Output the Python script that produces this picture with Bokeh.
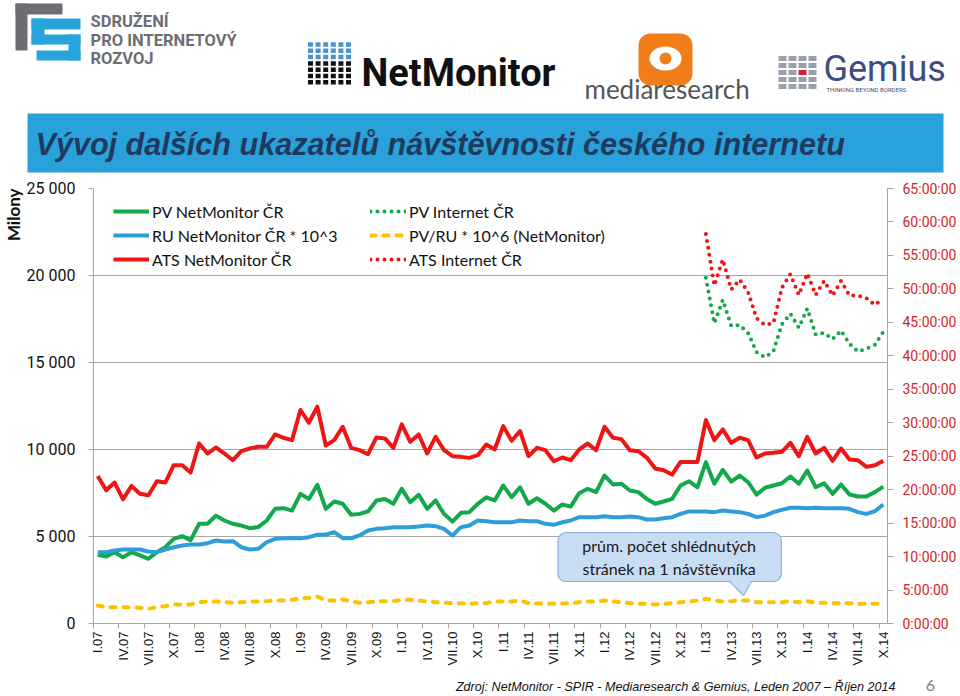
import math
from bokeh.plotting import figure
from bokeh.models import Range1d, LinearAxis, FixedTicker, Legend, LegendItem, Title
from bokeh.core.properties import value
from bokeh.embed import file_html
from bokeh.resources import INLINE

# ---------------- data ----------------
tick_labels = ["I.07", "IV.07", "VII.07", "X.07", "I.08", "IV.08", "VII.08", "X.08",
               "I.09", "IV.09", "VII.09", "X.09", "I.10", "IV.10", "VII.10", "X.10",
               "I.11", "IV.11", "VII.11", "X.11", "I.12", "IV.12", "VII.12", "X.12",
               "I.13", "IV.13", "VII.13", "X.13", "I.14", "IV.14", "VII.14", "X.14"]

# PV NetMonitor CR (millions)
pv_nm = [3950, 3850, 4100, 3810, 4100, 3910, 3720, 4100, 4385, 4865, 5020, 4790,
         5730, 5730, 6200, 5920, 5730, 5630, 5480, 5540, 5920, 6590, 6630, 6490,
         7450, 7160, 7970, 6590, 7010, 6880, 6245, 6300, 6440, 7070, 7160, 6880,
         7740, 6970, 7395, 6590, 7070, 6300, 5860, 6360, 6400, 6880, 7250, 7070,
         7930, 7260, 7830, 6880, 7200, 6880, 6490, 6840, 6720, 7490, 7740, 7550,
         8505, 7990, 8030, 7640, 7550, 7160, 6880, 7010, 7160, 7930, 8180, 7830,
         9270, 8030, 8830, 8160, 8505, 8120, 7410, 7800, 7930, 8060, 8450, 8030,
         8790, 7830, 8060, 7450, 7990, 7410, 7300, 7300, 7550, 7870]

# RU NetMonitor CR * 10^3
ru_nm = [4100, 4100, 4195, 4250, 4250, 4250, 4140, 4100, 4250, 4385, 4480, 4540,
         4540, 4615, 4770, 4710, 4730, 4385, 4250, 4290, 4670, 4865, 4900, 4900,
         4900, 4960, 5100, 5100, 5250, 4900, 4900, 5060, 5345, 5440, 5480, 5535,
         5535, 5535, 5575, 5630, 5595, 5440, 5060, 5535, 5630, 5920, 5870, 5820,
         5820, 5820, 5920, 5880, 5880, 5730, 5670, 5820, 5920, 6110, 6110, 6110,
         6170, 6110, 6110, 6150, 6110, 5980, 5980, 6050, 6110, 6300, 6440, 6440,
         6440, 6400, 6490, 6440, 6400, 6300, 6110, 6200, 6400, 6530, 6650, 6650,
         6630, 6650, 6630, 6630, 6630, 6590, 6400, 6300, 6450, 6840]

# ATS NetMonitor CR (hours)
ats_nm = [22.05, 19.9, 21.06, 18.56, 20.56, 19.4, 19.16, 21.26, 21.06, 23.65, 23.65, 22.56,
          26.9, 25.4, 26.3, 25.4, 24.4, 25.75, 26.15, 26.4, 26.4, 28.25, 27.75, 27.4,
          31.9, 30.0, 32.4, 26.6, 27.4, 29.4, 26.25, 25.9, 25.3, 27.8, 27.65, 26.25,
          29.75, 27.15, 28.25, 25.4, 27.9, 25.9, 25.0, 24.9, 24.75, 25.15, 26.75, 26.0,
          29.5, 27.3, 28.75, 25.0, 26.25, 25.9, 24.25, 24.8, 24.4, 26.0, 26.9, 25.9,
          29.4, 27.75, 27.55, 25.9, 25.75, 24.8, 23.15, 22.9, 22.25, 24.15, 24.15, 24.15,
          30.4, 27.4, 29.0, 27.0, 27.75, 27.4, 24.8, 25.4, 25.5, 25.65, 27.0, 25.0,
          27.9, 25.4, 26.25, 24.3, 26.15, 24.5, 24.4, 23.4, 23.65, 24.3]

# PV/RU * 10^6 (NetMonitor)
pv_ru = [1034, 940, 940, 940, 940, 900, 845, 940, 995, 1090, 1090, 1090,
         1225, 1265, 1265, 1225, 1190, 1225, 1265, 1265, 1285, 1320, 1320, 1360,
         1455, 1475, 1550, 1320, 1320, 1380, 1265, 1190, 1225, 1265, 1285, 1285,
         1360, 1360, 1320, 1265, 1225, 1190, 1170, 1170, 1130, 1170, 1170, 1265,
         1265, 1265, 1320, 1170, 1150, 1150, 1130, 1150, 1170, 1225, 1265, 1265,
         1320, 1265, 1225, 1170, 1130, 1130, 1090, 1130, 1170, 1225, 1265, 1320,
         1420, 1320, 1265, 1285, 1320, 1320, 1225, 1225, 1225, 1225, 1285, 1225,
         1285, 1190, 1190, 1170, 1170, 1170, 1130, 1130, 1130, 1130]

# Internet CR series start in I.13 (month index 72)
inet_start = 72
pv_inet = [19870, 17250, 18600, 17100, 17150, 16700, 15600, 15300, 15650, 17200, 17800, 17000,
           18100, 16600, 16700, 16340, 16830, 16070, 15620, 15790, 16010, 16760]
ats_inet = [58.2, 50.5, 54.4, 49.9, 51.4, 49.5, 45.6, 44.6, 44.9, 50.2, 52.2, 49.1,
            52.3, 49.1, 51.2, 49.0, 51.2, 49.0, 49.0, 48.6, 47.6, 48.5]

left_ticks = [0, 5000, 10000, 15000, 20000, 25000]
left_tick_labels = ["0", "5 000", "10 000", "15 000", "20 000", "25 000"]
right_ticks = [0, 5, 10, 15, 20, 25, 30, 35, 40, 45, 50, 55, 60, 65]
right_tick_labels = ["0:00:00", "5:00:00", "10:00:00", "15:00:00", "20:00:00", "25:00:00",
                     "30:00:00", "35:00:00", "40:00:00", "45:00:00", "50:00:00", "55:00:00",
                     "60:00:00", "65:00:00"]

months = list(range(len(pv_nm)))
months_inet = months[inet_start:]

GREEN = "#12a84c"
BLUE = "#2e9ed8"
RED = "#ee1515"
YELLOW = "#ffc000"
GRID = "#a6a6a6"
FONT = "Lato"
TICKFONT = "Roboto"

# ---------------- header (page coordinates) ----------------
h = figure(width=960, height=178, x_range=Range1d(0, 960), y_range=Range1d(178, 0),
           output_backend="svg", toolbar_location=None, min_border=0,
           x_axis_type=None, y_axis_type=None, outline_line_color=None)
h.grid.visible = False

# SPIR logo
h.quad(left=[15, 15], right=[62, 27], top=[3, 3], bottom=[14, 50],
       fill_color="#6d6e71", line_color=None)
h.quad(left=[31, 31, 31, 68, 36], right=[80, 44, 80, 80, 80],
       top=[18, 18, 34, 34, 50], bottom=[29, 44, 44, 60, 60],
       fill_color="#29a3dc", line_color=None)
h.text(x=[90] * 3, y=[21, 40, 58],
       text=["SDRUŽENÍ", "PRO INTERNETOVÝ", "ROZVOJ"],
       text_font=value("Roboto"), text_font_style="bold", text_font_size="16.5px",
       text_color="#6d6e71", text_baseline="middle")

# NetMonitor logo
gx, gy, gc = [], [], []
for r in range(7):
    for c in range(6):
        gx.append(310 + c * 7.6)
        gy.append(44 + r * 6.3)
        gc.append("#4a93d0" if r < 3 else "#111111")
h.rect(x=gx, y=gy, width=5, height=4.5, fill_color=gc, line_color=None)
h.text(x=[361], y=[72], text=["NetMonitor"], text_font=value("Roboto"),
       text_font_style="bold", text_font_size="38px", text_color="#111111",
       text_baseline="middle")

# mediaresearch logo
h.quad(left=[638], right=[692], top=[33], bottom=[85],
       fill_color="#f07d1a", line_color=None, border_radius=12)
h.ellipse(x=[665], y=[58], width=32, height=24, fill_color="white", line_color=None)
h.circle(x=[665], y=[58], radius=6, fill_color="#f07d1a", line_color=None)
h.text(x=[584], y=[88], text=["mediaresearch"], text_font=value("Lato"),
       text_font_style="normal", text_font_size="26px", text_color="#555555",
       text_baseline="middle")

# Gemius logo
mx, my, mc = [], [], []
for r in range(5):
    for c in range(4):
        mx.append(782 + c * 10)
        my.append(58 + r * 7)
        mc.append("#d0202a" if (r == 2 and c == 2) else "#9aa0aa")
h.rect(x=mx, y=my, width=8, height=5, fill_color=mc, line_color=None)
h.text(x=[823], y=[68], text=["Gemius"], text_font=value("Roboto"),
       text_font_size="36px", text_color="#3d4d7c", text_baseline="middle")
h.text(x=[826], y=[89], text=["THINKING  BEYOND  BORDERS"], text_font=value("Roboto"),
       text_font_size="6px", text_color="#3d4d7c", text_baseline="middle")

# Title bar
h.quad(left=[27], right=[943], top=[113], bottom=[172],
       fill_color="#29a1da", line_color=None)
h.text(x=[35], y=[143], text=["Vývoj dalších ukazatelů návštěvnosti českého internetu"],
       text_font=value("Liberation Sans"), text_font_style="bold italic",
       text_font_size="30.6px", text_color="#1f3a5f", text_baseline="middle")

# ---------------- main chart ----------------
p = figure(width=960, height=490, x_range=Range1d(-0.5, 93.5), y_range=Range1d(0, 25000),
           output_backend="svg", toolbar_location=None,
           min_border_left=87, min_border_right=73, min_border_top=10, min_border_bottom=45)
p.outline_line_color = None
p.extra_y_ranges = {"hours": Range1d(0, 65), "px": Range1d(435, 0)}
p.extra_x_ranges = {"px": Range1d(0, 800)}

xa = p.xaxis[0]
xa.ticker = FixedTicker(ticks=months[::3], minor_ticks=[m - 0.5 for m in months[::3]])
xa.major_label_overrides = {m: lab for m, lab in zip(months[::3], tick_labels)}
xa.major_label_orientation = math.pi / 2
xa.major_tick_line_color = None
xa.major_tick_out = 5
xa.major_tick_in = 0
xa.minor_tick_line_color = GRID
xa.minor_tick_out = 5
xa.minor_tick_in = 0
xa.axis_line_color = GRID
xa.major_label_standoff = 3
xa.major_label_text_font = "Liberation Sans"
xa.major_label_text_font_size = "13px"
xa.major_label_text_color = "#111111"

ya = p.yaxis[0]
ya.ticker = FixedTicker(ticks=left_ticks)
ya.major_label_overrides = {t: lab for t, lab in zip(left_ticks, left_tick_labels)}
ya.major_tick_line_color = GRID
ya.major_tick_out = 5
ya.major_tick_in = 0
ya.minor_tick_line_color = None
ya.axis_line_color = GRID
ya.major_label_standoff = 13
ya.major_label_text_font = TICKFONT
ya.major_label_text_font_size = "16px"
ya.major_label_text_color = "#111111"

ra = LinearAxis(y_range_name="hours", ticker=FixedTicker(ticks=right_ticks))
ra.major_label_overrides = {t: lab for t, lab in zip(right_ticks, right_tick_labels)}
ra.major_tick_line_color = GRID
ra.major_tick_out = 6
ra.major_tick_in = 0
ra.minor_tick_line_color = None
ra.axis_line_color = GRID
ra.major_label_standoff = 9
ra.major_label_text_font = TICKFONT
ra.major_label_text_font_size = "14px"
ra.major_label_text_color = "#d01f2b"
p.add_layout(ra, "right")

p.add_layout(Title(text="Milony", align="right", text_font=FONT, text_font_style="bold",
                   text_font_size="17px", text_color="#111111", standoff=0), "left")

p.xgrid.visible = False
p.ygrid.ticker = FixedTicker(ticks=left_ticks)
p.ygrid.grid_line_color = GRID

r_pv = p.line(months, pv_nm, line_color=GREEN, line_width=4, line_join="round")
r_ru = p.line(months, ru_nm, line_color=BLUE, line_width=4, line_join="round")
r_ats = p.line(months, ats_nm, y_range_name="hours", line_color=RED, line_width=4, line_join="round")
r_pvi = p.line(months_inet, pv_inet, line_color=GREEN, line_width=4, line_dash="0 7",
               line_cap="round")
r_pvru = p.line(months, pv_ru, line_color=YELLOW, line_width=4, line_dash="5 8", line_cap="round")
r_atsi = p.line(months_inet, ats_inet, y_range_name="hours", line_color=RED, line_width=4,
                line_dash="0 7", line_cap="round")


def make_legend(items, loc):
    return Legend(items=items, location=loc, orientation="vertical",
                  glyph_width=36, glyph_height=20, label_height=20, spacing=4,
                  padding=0, margin=0, label_standoff=3,
                  label_text_font=FONT, label_text_font_size="16px", label_text_color="#111111",
                  border_line_alpha=0, background_fill_alpha=0)


leg1 = make_legend([LegendItem(label="PV NetMonitor ČR", renderers=[r_pv]),
                    LegendItem(label="RU NetMonitor ČR * 10^3", renderers=[r_ru]),
                    LegendItem(label="ATS NetMonitor ČR", renderers=[r_ats])], (20, 354))
leg2 = make_legend([LegendItem(label="PV Internet ČR", renderers=[r_pvi]),
                    LegendItem(label="PV/RU * 10^6 (NetMonitor)", renderers=[r_pvru]),
                    LegendItem(label="ATS Internet ČR", renderers=[r_atsi])], (277, 354))
p.add_layout(leg1)
p.add_layout(leg2)

# callout
p.quad(left=[468], right=[693], top=[344], bottom=[393], x_range_name="px", y_range_name="px",
       fill_color="#c8dcf4", line_color="#8aaedc", line_width=1.2, border_radius=8)
p.patch(x=[641, 663, 655], y=[391, 391, 407], x_range_name="px", y_range_name="px",
        fill_color="#c8dcf4", line_color=None)
p.multi_line(xs=[[641, 655], [663, 655]], ys=[[393, 407], [393, 407]],
             x_range_name="px", y_range_name="px", line_color="#8aaedc", line_width=1.2)
p.text(x=[580, 580], y=[357, 380], text=["prům. počet shlédnutých", "stránek na 1 návštěvníka"],
       x_range_name="px", y_range_name="px", text_align="center", text_baseline="middle",
       text_font=value(FONT), text_font_size="16px", text_color="#1a1a1a")

# ---------------- footer (page coordinates) ----------------
f = figure(width=960, height=28, x_range=Range1d(0, 960), y_range=Range1d(696, 668),
           output_backend="svg", toolbar_location=None, min_border=0,
           x_axis_type=None, y_axis_type=None, outline_line_color=None)
f.grid.visible = False
f.text(x=[895], y=[686],
       text=["Zdroj: NetMonitor - SPIR - Mediaresearch & Gemius, Leden 2007 – Říjen 2014"],
       text_align="right", text_baseline="middle", text_font=value("Liberation Sans"),
       text_font_style="italic", text_font_size="12.6px", text_color="#111111")
f.text(x=[930], y=[685], text=["6"], text_align="center", text_baseline="middle",
       text_font=value(FONT), text_font_size="16px", text_color="#808080")

open("out.html", "w").write(file_html([h, p, f], INLINE))
